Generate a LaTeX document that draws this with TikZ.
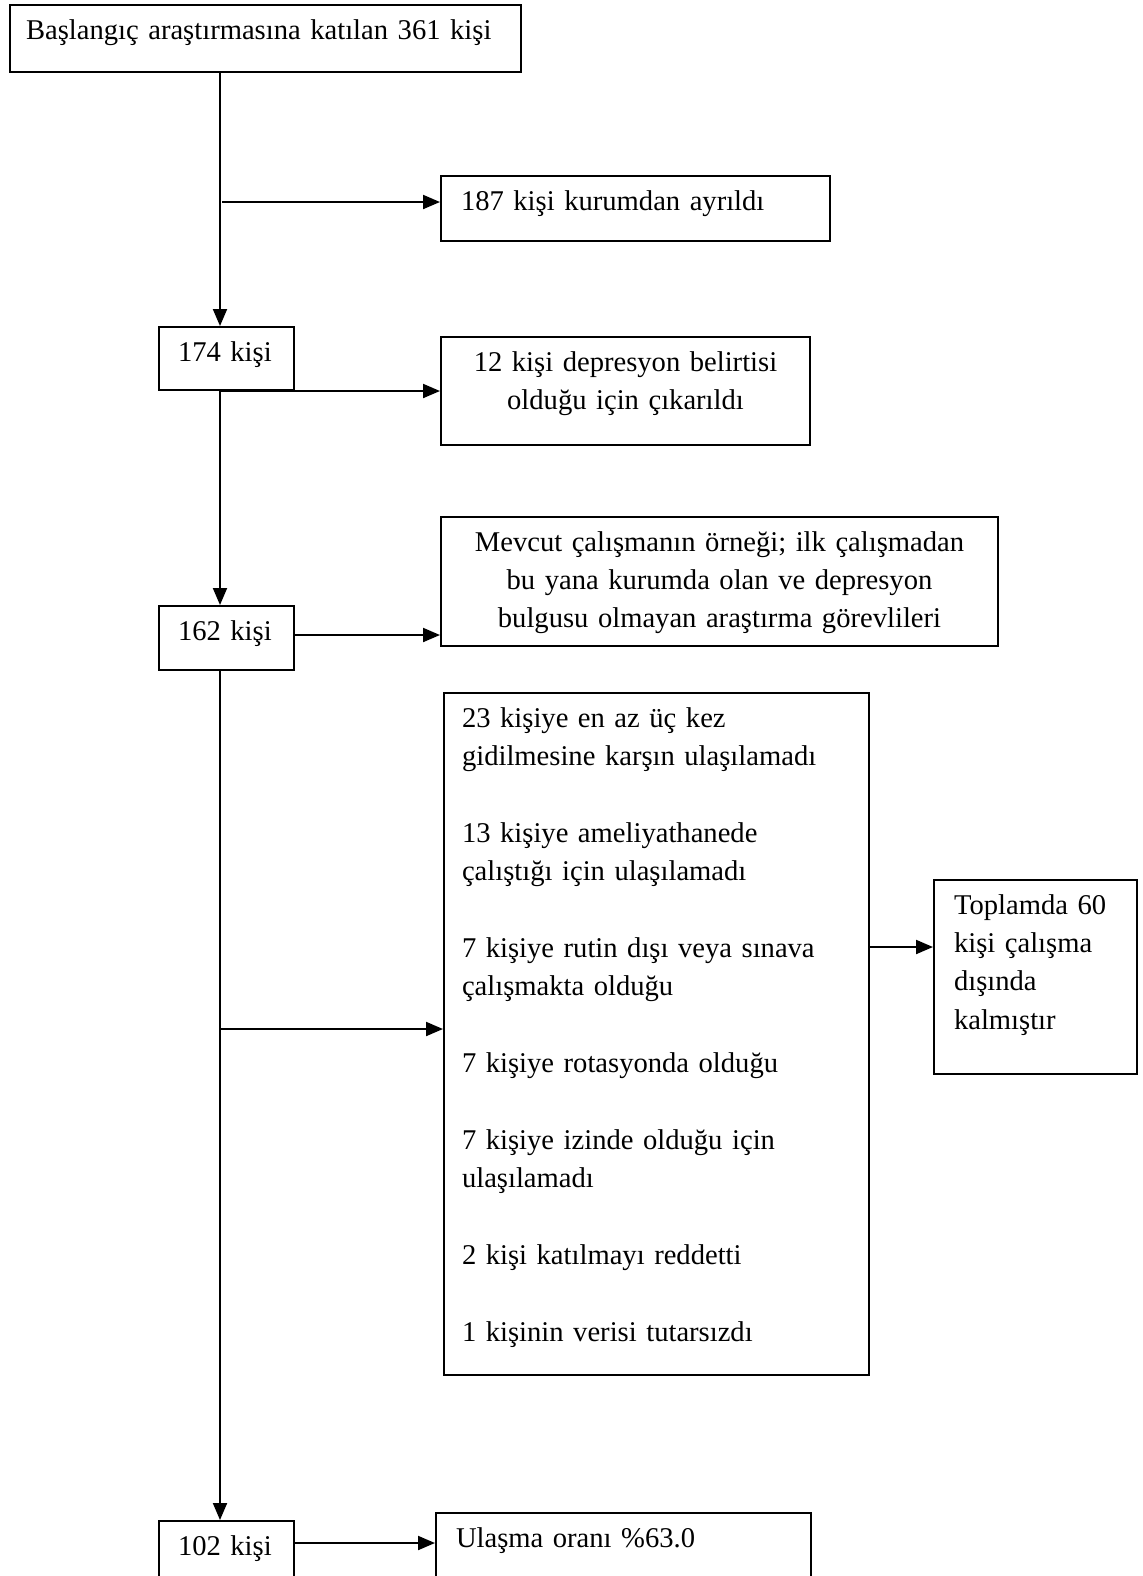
\documentclass[tikz,border=0pt]{standalone}
\usepackage{fontspec}
\setmainfont{Liberation Serif}
\usepackage{tikz}
\usetikzlibrary{arrows.meta,positioning,calc}
\tikzstyle{box} = [draw,
line width=1pt,
anchor=north west,
inner xsep=10pt,
inner ysep=7pt,
text height=10pt,
align=left,
font=\fontsize{14.3}{19.2}\selectfont]
\tikzstyle{small} = [box, inner xsep=9.5pt, text width=48.5pt]
\tikzstyle{arrow} = [->,line width=1pt]

\begin{document}
\begin{tikzpicture}[
  x=0.5pt, y=-0.5pt, % one unit per pixel of the original, y pointing down
  >={Triangle[length=8.5pt,width=7pt]},
]
  \useasboundingbox (0,0) rectangle (1143,1576);
  \clip (0,0) rectangle (1143,1576);

  \node[box, inner xsep=8pt, text width=239.5pt, text depth=9.5pt] (n361) at (9,4)
    {Başlangıç araştırmasına katılan 361 kişi};
  \node[box, text width=174.5pt, text depth=8.5pt] (n187) at (440,175) {187 kişi kurumdan ayrıldı};
  \node[small, text depth=7.5pt] (n174) at (158,326) {\mbox{174 kişi}};
  \node[box, align=center, text width=164.5pt, text depth=30pt] (n12) at (440,336)
    {12 kişi depresyon belirtisi\\olduğu için çıkarıldı};
  \node[box, align=center, text width=258.5pt, text depth=40.5pt] (nmev) at (440,516)
    {Mevcut çalışmanın örneği; ilk çalışmadan\\bu yana kurumda olan ve depresyon\\bulgusu olmayan araştırma görevlileri};
  \node[small, text depth=8pt] (n162) at (158,605) {\mbox{162 kişi}};
  \node[box, inner xsep=9pt, text width=194.5pt, text depth=317pt] (nlost) at (443,692)
    {23 kişiye en az üç kez\\gidilmesine karşın ulaşılamadı\\[19.2pt]
     13 kişiye ameliyathanede\\çalıştığı için ulaşılamadı\\[19.2pt]
     7 kişiye rutin dışı veya sınava\\çalışmakta olduğu\\[19.2pt]
     7 kişiye rotasyonda olduğu\\[19.2pt]
     7 kişiye izinde olduğu için\\ulaşılamadı\\[19.2pt]
     2 kişi katılmayı reddetti\\[19.2pt]
     1 kişinin verisi tutarsızdı};
  \node[box, text width=81.5pt, text depth=73pt]   (ntotal) at (933,879)
    {Toplamda 60\\kişi çalışma\\dışında\\kalmıştır};
  \node[small, text depth=16pt] (n102) at (158,1520) {\mbox{102 kişi}};
  \node[box, text width=167.5pt, text depth=16pt]  (nrate) at (435,1512) {Ulaşma oranı \%63.0};

  % branch points on the main line
  \coordinate (b187) at (222,202);
  \coordinate (b12) at (220,391);
  \coordinate (blost) at (220,1029);

  \draw [arrow] (n361.south -| b12) -- (n174.north -| b12);
  \draw [arrow] (b187) -- (b187 -| n187.west);
  \draw [arrow] (b12) -- (b12 -| n12.west);
  \draw [arrow] (n174.south -| b12) -- (n162.north -| b12);
  \draw [arrow] (n162.east |- 0,635) -- (nmev.west |- 0,635);
  \draw [arrow] (n162.south -| b12) -- (n102.north -| b12);
  \draw [arrow] (blost) -- (blost -| nlost.west);
  \draw [arrow] (nlost.east |- 0,947) -- (ntotal.west |- 0,947);
  \draw [arrow] (n102.east |- 0,1543) -- (nrate.west |- 0,1543);
\end{tikzpicture}
\end{document}
